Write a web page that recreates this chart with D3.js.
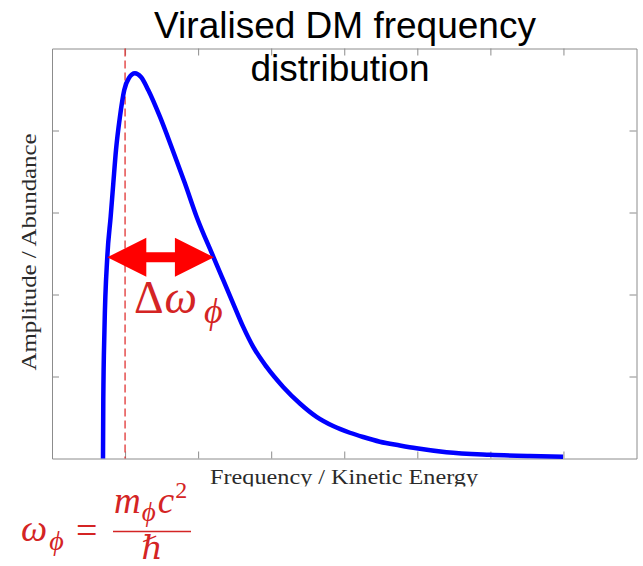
<!DOCTYPE html>
<html>
<head>
<meta charset="utf-8">
<script src="https://cdn.jsdelivr.net/npm/d3@7"></script>
<style>
  html, body { margin: 0; padding: 0; background: #fff; }
  svg { display: block; }
</style>
</head>
<body>
<svg id="chart" width="643" height="566"></svg>
<script>
// ---- data ----
const titleLines = ["Viralised DM frequency", "distribution"];
const xLabel = "Frequency / Kinetic Energy";
const yLabel = "Amplitude / Abundance";
const xDomain = [0, 8];
const yDomain = [0, 5];
const xTicks = [1, 2, 3, 4, 5, 6, 7];
const yTicks = [1, 2, 3, 4];
const freq = [0.698, 0.702, 0.718, 0.757, 0.803, 0.839, 0.876, 0.930, 0.989, 1.053, 1.135, 1.218, 1.317, 1.477, 1.651, 1.819, 1.979, 2.207, 2.343, 2.480, 2.617, 2.754, 2.937, 3.164, 3.393, 3.621, 3.848, 4.077, 4.259, 4.487, 4.761, 4.989, 5.399, 5.992, 6.539, 6.995];
const amplitude = [0.0, 0.713, 1.567, 2.461, 2.949, 3.356, 3.762, 4.168, 4.494, 4.640, 4.698, 4.652, 4.494, 4.168, 3.762, 3.356, 2.949, 2.463, 2.177, 1.890, 1.605, 1.361, 1.117, 0.873, 0.671, 0.508, 0.396, 0.314, 0.262, 0.205, 0.159, 0.124, 0.076, 0.045, 0.030, 0.022];
const restFreq = 1;                 // dashed line: omega_phi
const widthArrowX = [0.757, 2.216]; // Delta omega_phi arrow ends
const widthArrowY = 2.454;

// ---- layout ----
const svg = d3.select("#chart");
const x = d3.scaleLinear().domain(xDomain).range([52, 636.5]);
const y = d3.scaleLinear().domain(yDomain).range([458.5, 48.5]);
const frameColor = "#8c8c8c";
const textRed = "#d42424";

// clip for x label (bottom cut off in reference)
svg.append("defs").append("clipPath").attr("id", "xlabclip")
  .append("rect").attr("x", 0).attr("y", 460).attr("width", 643).attr("height", 26.5);

// axes (inward ticks, all four sides)
function styleAxis(g) {
  g.selectAll("path.domain").attr("stroke", frameColor).attr("stroke-width", 1);
  g.selectAll(".tick line").attr("stroke", frameColor).attr("stroke-width", 1);
  g.selectAll(".tick text").remove();
}
svg.append("g").attr("transform", `translate(0,${y(0)})`)
  .call(d3.axisBottom(x).tickValues(xTicks).tickSize(-7).tickSizeOuter(0).tickFormat(""))
  .call(styleAxis);
svg.append("g").attr("transform", `translate(0,${y(5)})`)
  .call(d3.axisTop(x).tickValues(xTicks).tickSize(-7).tickSizeOuter(0).tickFormat(""))
  .call(styleAxis);
svg.append("g").attr("transform", `translate(${x(0)},0)`)
  .call(d3.axisLeft(y).tickValues(yTicks).tickSize(-7).tickSizeOuter(0).tickFormat(""))
  .call(styleAxis);
svg.append("g").attr("transform", `translate(${x(8)},0)`)
  .call(d3.axisRight(y).tickValues(yTicks).tickSize(-7).tickSizeOuter(0).tickFormat(""))
  .call(styleAxis);

// dashed rest-frequency line
svg.append("line")
  .attr("x1", x(restFreq)).attr("x2", x(restFreq))
  .attr("y1", y(5)).attr("y2", y(0))
  .attr("stroke", "#e03333").attr("stroke-width", 1.3)
  .attr("stroke-dasharray", "8,4");

// distribution curve
const pts = freq.map((f, i) => [f, amplitude[i]]);
svg.append("path").datum(pts)
  .attr("fill", "none").attr("stroke", "#0000ff").attr("stroke-width", 4.5)
  .attr("stroke-linejoin", "round")
  .attr("d", d3.line().x(d => x(d[0])).y(d => y(d[1])).curve(d3.curveMonotoneX));

// double-headed arrow
(function () {
  const x1 = x(widthArrowX[0]), x2 = x(widthArrowX[1]), yy = y(widthArrowY);
  const hl = 39, hh = 19.5, sh = 5;
  const p = [
    [x1, yy], [x1 + hl, yy - hh], [x1 + hl, yy - sh], [x2 - hl, yy - sh], [x2 - hl, yy - hh],
    [x2, yy], [x2 - hl, yy + hh], [x2 - hl, yy + sh], [x1 + hl, yy + sh], [x1 + hl, yy + hh]
  ];
  svg.append("polygon").attr("points", p.map(d => d.join(",")).join(" ")).attr("fill", "#ff0000");
})();

// Delta omega_phi label
const dl = svg.append("text")
  .attr("x", 134).attr("y", 313)
  .attr("font-family", "'Liberation Serif', 'DejaVu Serif', serif")
  .attr("font-size", 46).attr("fill", textRed);
dl.append("tspan").text("Δ");
dl.append("tspan").attr("font-style", "italic").attr("dx", 1).text("ω");
dl.append("tspan").attr("font-style", "italic").attr("font-size", 36).attr("dy", 10).attr("dx", 7).text("ϕ");

// title
svg.append("g").selectAll("text").data(titleLines).join("text")
  .attr("x", (d, i) => i === 0 ? 345 : 340)
  .attr("y", (d, i) => 38 + i * 43)
  .attr("text-anchor", "middle")
  .attr("font-family", "'Liberation Sans', Arial, sans-serif")
  .attr("font-size", 37).attr("fill", "#000")
  .text(d => d);

// axis labels
svg.append("text")
  .attr("clip-path", "url(#xlabclip)")
  .attr("x", 344).attr("y", 483.5)
  .attr("text-anchor", "middle")
  .attr("font-family", "'Liberation Serif', 'Times New Roman', serif")
  .attr("font-size", 21).attr("fill", "#2a2a2a")
  .attr("textLength", 268).attr("lengthAdjust", "spacingAndGlyphs")
  .text(xLabel);
svg.append("text")
  .attr("transform", "translate(36,252) rotate(-90)")
  .attr("text-anchor", "middle")
  .attr("font-family", "'Liberation Serif', 'Times New Roman', serif")
  .attr("font-size", 21).attr("fill", "#2a2a2a")
  .attr("textLength", 237).attr("lengthAdjust", "spacingAndGlyphs")
  .text(yLabel);

// omega_phi = m_phi c^2 / hbar
const ff = "'Liberation Serif', 'DejaVu Serif', serif";
const eq = svg.append("g").attr("fill", textRed).attr("font-family", ff);
const lhs = eq.append("text").attr("x", 21).attr("y", 541).attr("font-size", 37);
lhs.append("tspan").attr("font-style", "italic").text("ω");
lhs.append("tspan").attr("font-style", "italic").attr("font-size", 28).attr("dy", 9).attr("dx", 2).text("ϕ");
eq.append("text").attr("x", 76).attr("y", 543).attr("font-size", 38).text("=");
eq.append("line").attr("x1", 113).attr("x2", 191).attr("y1", 531.5).attr("y2", 531.5)
  .attr("stroke", textRed).attr("stroke-width", 1.6);
const num = eq.append("text").attr("x", 114).attr("y", 513).attr("font-size", 37);
num.append("tspan").attr("font-style", "italic").text("m");
num.append("tspan").attr("font-style", "italic").attr("font-size", 27).attr("dy", 8).attr("dx", 1).text("ϕ");
num.append("tspan").attr("font-style", "italic").attr("dy", -8).attr("dx", 2).text("c");
num.append("tspan").attr("font-size", 24).attr("dy", -15).attr("dx", 1).text("2");
eq.append("text").attr("x", 152).attr("y", 559).attr("text-anchor", "middle")
  .attr("font-size", 33).attr("font-style", "italic").text("ℏ");
</script>
</body>
</html>
